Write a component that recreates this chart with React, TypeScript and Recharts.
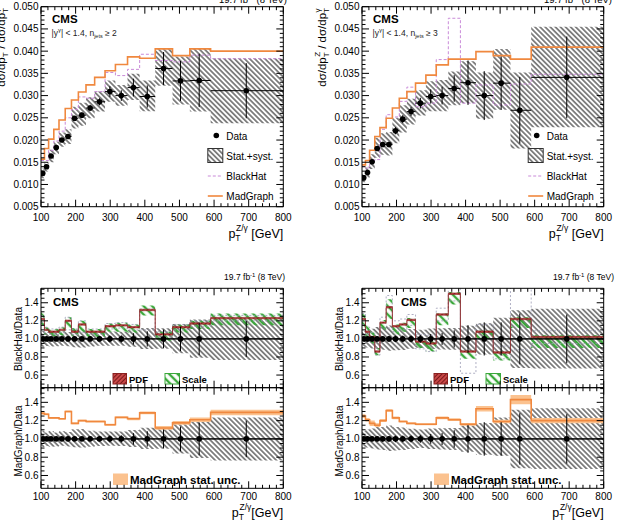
import React from 'react';
import { Area, ComposedChart, ErrorBar, Line, ReferenceLine, Scatter, XAxis, YAxis } from 'recharts';

const FONT = '"Liberation Sans", Arial, Helvetica, sans-serif';

// p_T bins (GeV) and where the data points sit
const binEdges = [100, 110, 122, 137, 152, 170, 188, 208, 230, 255, 285, 315, 350, 385, 430, 480, 530, 590, 800];
const pointPt = [105, 116, 129, 144, 160, 178, 197, 218, 242, 269, 299, 332, 367, 407, 454, 503, 557, 693];

// n_jets >= 2 : ratio of cross sections
const dataJ2 = [0.0125, 0.014, 0.0164, 0.0183, 0.02, 0.0208, 0.0249, 0.0256, 0.0272, 0.0286, 0.0309, 0.03, 0.0318, 0.0298, 0.0361, 0.0333, 0.0334, 0.0311];
const statJ2 = [0.0002, 0.0003, 0.0003, 0.0004, 0.0004, 0.0005, 0.0005, 0.0006, 0.0007, 0.0008, 0.0012, 0.0012, 0.002, 0.0025, 0.0037, 0.0045, 0.006, 0.0062];
const bandLoJ2 = [0.0114, 0.0129, 0.015, 0.0168, 0.0185, 0.0191, 0.0226, 0.0232, 0.0249, 0.0264, 0.0286, 0.0277, 0.029, 0.0265, 0.0322, 0.028, 0.0264, 0.0238];
const bandHiJ2 = [0.0136, 0.015, 0.0178, 0.0196, 0.0217, 0.0224, 0.0275, 0.0284, 0.0296, 0.0309, 0.0334, 0.0324, 0.0349, 0.0334, 0.0404, 0.0388, 0.0406, 0.0384];
const madgraphJ2 = [0.0157, 0.0181, 0.0202, 0.0224, 0.0245, 0.0271, 0.029, 0.0308, 0.0324, 0.0341, 0.0356, 0.037, 0.0387, 0.0384, 0.0405, 0.039, 0.0405, 0.04];
const blackhatJ2 = [0.0154, 0.0154, 0.0177, 0.0198, 0.022, 0.025, 0.0269, 0.0297, 0.0294, 0.0309, 0.0352, 0.0345, 0.0359, 0.0393, 0.0379, 0.0376, 0.0391, 0.0383];

const bhRatioJ2 = [1.22, 1.1, 1.08, 1.08, 1.1, 1.2, 1.08, 1.16, 1.08, 1.08, 1.14, 1.15, 1.13, 1.32, 1.05, 1.13, 1.17, 1.23];
const pdfJ2 = [0.008, 0.008, 0.008, 0.008, 0.008, 0.008, 0.008, 0.008, 0.008, 0.008, 0.008, 0.008, 0.008, 0.008, 0.008, 0.008, 0.008, 0.008];
const scaleLoJ2 = [1.15, 1.05, 1.03, 1.03, 1.04, 1.12, 1.03, 1.08, 1.02, 1.02, 1.08, 1.08, 1.07, 1.26, 0.98, 1.07, 1.11, 1.15];
const scaleHiJ2 = [1.3, 1.13, 1.11, 1.11, 1.13, 1.24, 1.12, 1.2, 1.11, 1.11, 1.17, 1.18, 1.16, 1.37, 1.08, 1.16, 1.2, 1.28];
const bhStatLoJ2 = [1.18, 1.07, 1.05, 1.05, 1.07, 1.1, 1.05, 1.07, 1.05, 1.05, 1.11, 1.12, 1.1, 1.1, 1.02, 1.1, 1.14, 1.2];
const bhStatHiJ2 = [1.26, 1.13, 1.11, 1.11, 1.13, 1.24, 1.11, 1.2, 1.11, 1.11, 1.17, 1.18, 1.16, 1.33, 1.08, 1.16, 1.2, 1.26];
const mgRatioJ2 = [1.28, 1.27, 1.23, 1.23, 1.22, 1.3, 1.17, 1.2, 1.19, 1.19, 1.155, 1.235, 1.22, 1.285, 1.12, 1.175, 1.21, 1.29];
const mgStatJ2 = [0.015, 0.01, 0.01, 0.01, 0.01, 0.01, 0.01, 0.01, 0.01, 0.01, 0.01, 0.01, 0.015, 0.015, 0.02, 0.02, 0.025, 0.03];

// n_jets >= 3
const dataJ3 = [0.0115, 0.0127, 0.0151, 0.0181, 0.019, 0.019, 0.0221, 0.0247, 0.0264, 0.0283, 0.0298, 0.03, 0.0316, 0.0329, 0.03, 0.0328, 0.0267, 0.0341];
const statJ3 = [0.0003, 0.0004, 0.0004, 0.0005, 0.0006, 0.0006, 0.0008, 0.0009, 0.001, 0.0012, 0.0016, 0.002, 0.003, 0.005, 0.0055, 0.006, 0.0075, 0.0092];
const bandLoJ3 = [0.0105, 0.0115, 0.0135, 0.016, 0.0167, 0.0165, 0.0193, 0.0217, 0.0235, 0.0255, 0.0265, 0.0265, 0.0278, 0.0283, 0.0248, 0.0268, 0.0181, 0.0229];
const bandHiJ3 = [0.0125, 0.014, 0.0168, 0.0205, 0.0215, 0.0218, 0.025, 0.0278, 0.0293, 0.0312, 0.0332, 0.0335, 0.0354, 0.0377, 0.0352, 0.0405, 0.0352, 0.0455];
const madgraphJ3 = [0.0144, 0.0154, 0.0177, 0.0208, 0.0228, 0.0249, 0.0272, 0.0294, 0.0309, 0.0328, 0.0346, 0.0369, 0.0382, 0.0382, 0.0399, 0.039, 0.0382, 0.0409];
const blackhatJ3 = [0.014, 0.0137, 0.0154, 0.0156, 0.0224, 0.0257, 0.0252, 0.0287, 0.0319, 0.0275, 0.0283, 0.0381, 0.0474, 0.0283, 0.0324, 0.0279, 0.0326, 0.0348];

const bhRatioJ3 = [1.22, 1.08, 1.02, 0.86, 1.18, 1.35, 1.14, 1.16, 1.21, 0.97, 0.95, 1.27, 1.5, 0.86, 1.08, 0.85, 1.22, 1.02];
const pdfJ3 = [0.008, 0.008, 0.008, 0.008, 0.008, 0.008, 0.008, 0.008, 0.008, 0.008, 0.008, 0.008, 0.008, 0.008, 0.008, 0.008, 0.008, 0.008];
const scaleLoJ3 = [1.12, 1.0, 0.95, 0.82, 1.1, 1.22, 1.05, 1.08, 1.12, 0.9, 0.86, 1.15, 1.38, 0.78, 1.0, 0.76, 1.12, 0.9];
const scaleHiJ3 = [1.28, 1.15, 1.08, 0.9, 1.21, 1.44, 1.16, 1.18, 1.23, 0.98, 0.97, 1.28, 1.52, 0.87, 1.09, 0.86, 1.24, 1.04];
const bhStatLoJ3 = [1.16, 1.03, 0.97, 0.82, 1.12, 1.12, 1.08, 1.1, 1.15, 0.89, 0.86, 1.2, 1.42, 0.62, 1.0, 0.78, 0.88, 0.95];
const bhStatHiJ3 = [1.28, 1.13, 1.07, 0.9, 1.24, 1.48, 1.2, 1.22, 1.27, 1.05, 1.04, 1.34, 1.58, 1.1, 1.16, 0.92, 1.7, 1.09];
const mgRatioJ3 = [1.25, 1.21, 1.17, 1.15, 1.2, 1.31, 1.23, 1.19, 1.17, 1.16, 1.16, 1.23, 1.21, 1.16, 1.33, 1.19, 1.43, 1.2];
const mgStatJ3 = [0.02, 0.02, 0.03, 0.02, 0.015, 0.015, 0.015, 0.01, 0.01, 0.01, 0.01, 0.015, 0.015, 0.015, 0.03, 0.02, 0.05, 0.03];

// axis ticks
const xMajor = [100, 200, 300, 400, 500, 600, 700, 800];
const yMajorTop = [0.005, 0.01, 0.015, 0.02, 0.025, 0.03, 0.035, 0.04, 0.045, 0.05];
const yMajorRatio = [0.6, 0.8, 1.0, 1.2, 1.4];

const grid = (a: number, b: number, s: number) =>
  Array.from({ length: Math.round((b - a) / s) + 1 }, (_, i) => Math.round((a + i * s) * 1e6) / 1e6);
const xTicks = grid(100, 800, 20);
const yTicksTop = grid(0.005, 0.05, 0.001);
const yTicksRatio = grid(0.5, 1.55, 0.05);

const ORANGE = '#f0883e';
const VIOLET = '#c98ad8';
const AXIS = { stroke: '#000', strokeWidth: 1 };

const near = (v: number, arr: number[]) => arr.some((a) => Math.abs(a - v) < 1e-6);

function stepRows(cols: Record<string, any[]>) {
  const n = binEdges.length - 1;
  return binEdges.map((e, i) => {
    const row: Record<string, any> = { x: e };
    const k = Math.min(i, n - 1);
    Object.keys(cols).forEach((key) => {
      row[key] = cols[key][k];
    });
    return row;
  });
}

function pointRows(ys: number[], errs: number[]) {
  return pointPt.map((x, i) => ({
    x,
    y: ys[i],
    yErr: errs[i],
    xErr: [x - binEdges[i], binEdges[i + 1] - x],
  }));
}

const xTick = (side: 'bottom' | 'top', labelGap: number) => (p: any) => {
  const v = p.payload.value;
  const major = near(v, xMajor);
  const len = major ? 7 : 3.5;
  const dir = side === 'bottom' ? -1 : 1;
  return (
    <g>
      <line x1={p.x} x2={p.x} y1={p.y} y2={p.y + dir * len} stroke="#000" />
      {labelGap > 0 && major && (
        <text x={p.x} y={p.y + labelGap} textAnchor="middle" fontSize={10} fontFamily={FONT} fill="#000">
          {v}
        </text>
      )}
    </g>
  );
};

const yTick = (side: 'left' | 'right', major: number[], fmt: (v: number) => string) => (p: any) => {
  const v = p.payload.value;
  const isMajor = near(v, major);
  const len = isMajor ? 7 : 3.5;
  const dir = side === 'left' ? 1 : -1;
  return (
    <g>
      <line x1={p.x} x2={p.x + dir * len} y1={p.y} y2={p.y} stroke="#000" />
      {side === 'left' && isMajor && (
        <text x={p.x - 2.5} y={p.y + 3.5} textAnchor="end" fontSize={10} fontFamily={FONT} fill="#000">
          {fmt(v)}
        </text>
      )}
    </g>
  );
};

// axes are 1px thick so that recharts draws them; frameMargin subtracts that pixel
function frameAxes(yDomain: [number, number], yTicks: number[], yMajor: number[], fmt: (v: number) => string, labelGap: number) {
  const common = { type: 'number' as const, allowDataOverflow: true, interval: 0 as const, tickSize: 0, tickMargin: 0, tickLine: false, axisLine: AXIS };
  return [
    <XAxis key="xb" dataKey="x" domain={[100, 800]} ticks={xTicks} height={1} tick={xTick('bottom', labelGap)} {...common} />,
    <XAxis key="xt" xAxisId="t" dataKey="x" orientation="top" domain={[100, 800]} ticks={xTicks} height={1} tick={xTick('top', 0)} {...common} />,
    <YAxis key="yl" domain={yDomain} ticks={yTicks} width={1} tick={yTick('left', yMajor, fmt)} {...common} />,
    <YAxis key="yr" yAxisId="r" orientation="right" domain={yDomain} ticks={yTicks} width={1} tick={yTick('right', yMajor, fmt)} {...common} />,
  ];
}

const frameMargin = (top: number, bottom: number, left: number, right: number) => ({
  top: top - 1,
  bottom: bottom - 1,
  left: left - 1,
  right: right - 1,
});

function patterns(uid: string) {
  return (
    <defs>
      <pattern id={`gray${uid}`} patternUnits="userSpaceOnUse" width={3.6} height={3.6} patternTransform="rotate(-45)">
        <line x1={1.8} y1={0} x2={1.8} y2={3.6} stroke="#2a2a2a" strokeWidth={1.1} />
      </pattern>
      <pattern id={`green${uid}`} patternUnits="userSpaceOnUse" width={6} height={6} patternTransform="rotate(-45)">
        <line x1={3} y1={0} x2={3} y2={6} stroke="#3aa83a" strokeWidth={2.4} />
      </pattern>
      <pattern id={`red${uid}`} patternUnits="userSpaceOnUse" width={3} height={3} patternTransform="rotate(45)">
        <rect x={0} y={0} width={3} height={3} fill="#c84848" />
        <line x1={1.5} y1={0} x2={1.5} y2={3} stroke="#7a1a1a" strokeWidth={1} />
      </pattern>
    </defs>
  );
}

const dot = (p: any) => <circle cx={p.cx} cy={p.cy} r={2.8} fill="#000" />;

function dataPoints(ys: number[], errs: number[]) {
  return (
    <Scatter data={pointRows(ys, errs)} dataKey="y" shape={dot} isAnimationActive={false}>
      <ErrorBar dataKey="yErr" direction="y" width={0} stroke="#000" strokeWidth={1} isAnimationActive={false} />
      <ErrorBar dataKey="xErr" direction="x" width={0} stroke="#000" strokeWidth={1} isAnimationActive={false} />
    </Scatter>
  );
}

function ptTitle(x: number, y: number, gap: string) {
  return (
    <text x={x} y={y} textAnchor="end" fontFamily={FONT} fontSize={12.5} fill="#000">
      p<tspan fontSize={8.5} dy={3.5}>T</tspan>
      <tspan fontSize={8.5} dx={-4.5} dy={-10}>Z/γ</tspan>
      <tspan dy={6.5}>{gap}[GeV]</tspan>
    </text>
  );
}

function lumi(x: number, y: number, size: number) {
  return (
    <text x={x} y={y} textAnchor="end" fontFamily={FONT} fontSize={size} fill="#000">
      19.7 fb<tspan fontSize={size * 0.7} dy={-3.5}>-1</tspan>
      <tspan dy={3.5}> (8 TeV)</tspan>
    </text>
  );
}

interface MainProps {
  uid: string;
  left: number;
  plotL: number;
  plotR: number;
  lumiR: number;
  njets: number;
  data: number[];
  stat: number[];
  lo: number[];
  hi: number[];
  mg: number[];
  bh: number[];
}

function MainPanel({ uid, left, plotL, plotR, lumiR, njets, data, stat, lo, hi, mg, bh }: MainProps) {
  const W = 312;
  const H = 245;
  const top = 6.7;
  const bottom = 206.7;
  const ox = plotL - left;
  const rx = plotR - left;
  const steps = stepRows({ band: lo.map((v, i) => [v, hi[i]]), mg, bh });
  return (
    <div style={{ position: 'absolute', left, top: 0 }}>
      <ComposedChart width={W} height={H} margin={frameMargin(top, H - bottom, ox, W - rx)}>
        {patterns(uid)}
        {frameAxes([0.005, 0.05], yTicksTop, yMajorTop, (v) => v.toFixed(3), 14)}
        <Area data={steps} dataKey="band" type="stepAfter" fill={`url(#gray${uid})`} fillOpacity={1} stroke="none" isAnimationActive={false} />
        <Line data={steps} dataKey="bh" type="stepAfter" stroke={VIOLET} strokeWidth={1} strokeDasharray="3 2" dot={false} activeDot={false} isAnimationActive={false} />
        <Line data={steps} dataKey="mg" type="stepAfter" stroke={ORANGE} strokeWidth={1.6} dot={false} activeDot={false} isAnimationActive={false} />
        {dataPoints(data, stat)}

        <text x={ox + 11} y={23} fontFamily={FONT} fontSize={11.5} fontWeight="bold" fill="#000">CMS</text>
        <text x={ox + 10.5} y={35.5} fontFamily={FONT} fontSize={8.5} fill="#222">
          |y<tspan fontSize={6} dy={-4}>γ</tspan>
          <tspan dy={4}>{'| < 1.4, n'}</tspan>
          <tspan fontSize={5.5} dy={2.5}>jets</tspan>
          <tspan dy={-2.5}>{` ≥ ${njets}`}</tspan>
        </text>
        {lumi(lumiR - left, 3, 9.5)}
        {ptTitle(rx, 237.5, ' ')}
        <text transform={`translate(${ox - 36},8) rotate(-90)`} textAnchor="end" fontFamily={FONT} fontSize={11.5} fill="#000">
          dσ/dp<tspan fontSize={8} dy={3}>T</tspan>
          <tspan fontSize={8} dx={-4.5} dy={-9}>Z</tspan>
          <tspan dy={6}> / dσ/dp</tspan>
          <tspan fontSize={8} dy={3}>T</tspan>
          <tspan fontSize={8} dx={-4.5} dy={-9}>γ</tspan>
        </text>

        <circle cx={rx - 67} cy={135.5} r={2.8} fill="#000" />
        <text x={rx - 57} y={139.5} fontFamily={FONT} fontSize={10} fill="#000">Data</text>
        <rect x={rx - 75.5} y={148.5} width={15} height={14} fill={`url(#gray${uid})`} stroke="#333" />
        <text x={rx - 57} y={159.5} fontFamily={FONT} fontSize={10} fill="#000">Stat.+syst.</text>
        <line x1={rx - 75.5} x2={rx - 60.5} y1={176} y2={176} stroke={VIOLET} strokeDasharray="3 2" />
        <text x={rx - 57} y={179.5} fontFamily={FONT} fontSize={10} fill="#000">BlackHat</text>
        <line x1={rx - 75.5} x2={rx - 60.5} y1={196} y2={196} stroke={ORANGE} strokeWidth={1.6} />
        <text x={rx - 57} y={199.5} fontFamily={FONT} fontSize={10} fill="#000">MadGraph</text>
      </ComposedChart>
    </div>
  );
}

interface RatioProps {
  uid: string;
  left: number;
  plotL: number;
  plotR: number;
  lumiR: number;
  cmsX: number;
  data: number[];
  stat: number[];
  lo: number[];
  hi: number[];
  bh: number[];
  pdf: number[];
  scaleLo: number[];
  scaleHi: number[];
  bhStatLo: number[];
  bhStatHi: number[];
  mg: number[];
  mgStat: number[];
}

const RATIO_DOMAIN: [number, number] = [0.46, 1.56];

function RatioPanels(p: RatioProps) {
  const W = 312;
  const ox = p.plotL - p.left;
  const rx = p.plotR - p.left;
  const relBand = p.lo.map((v, i) => [v / p.data[i], p.hi[i] / p.data[i]]);
  const relStat = p.stat.map((s, i) => s / p.data[i]);
  const ones = p.data.map(() => 1);
  const upper = stepRows({
    band: relBand,
    scale: p.scaleLo.map((v, i) => [v, p.scaleHi[i]]),
    pdf: p.bh.map((v, i) => [v - p.pdf[i], v + p.pdf[i]]),
    bhStat: p.bhStatLo.map((v, i) => [v, p.bhStatHi[i]]),
  });
  const lower = stepRows({
    band: relBand,
    mgBand: p.mg.map((v, i) => [v - p.mgStat[i], v + p.mgStat[i]]),
    mg: p.mg,
  });
  const fmt = (v: number) => v.toFixed(1);
  const H1 = 130;
  const H2 = 150;
  return (
    <>
      <div style={{ position: 'absolute', left: p.left, top: 260 }}>
        <ComposedChart width={W} height={H1} margin={frameMargin(28.3, H1 - 127.7, ox, W - rx)}>
          {patterns(p.uid + 'u')}
          {frameAxes(RATIO_DOMAIN, yTicksRatio, yMajorRatio, fmt, 0)}
          <Area data={upper} dataKey="band" type="stepAfter" fill={`url(#gray${p.uid}u)`} fillOpacity={1} stroke="none" isAnimationActive={false} />
          <Area data={upper} dataKey="scale" type="stepAfter" fill={`url(#green${p.uid}u)`} fillOpacity={1} stroke="none" isAnimationActive={false} />
          <Area data={upper} dataKey="bhStat" type="stepAfter" fill="none" stroke="#9a9ab4" strokeWidth={0.8} strokeDasharray="2 2" isAnimationActive={false} />
          <Area data={upper} dataKey="pdf" type="stepAfter" fill={`url(#red${p.uid}u)`} fillOpacity={1} stroke="#8a2020" strokeWidth={0.6} isAnimationActive={false} />
          <ReferenceLine y={1} stroke="#000" strokeWidth={1} />
          {dataPoints(ones, relStat)}

          <text x={ox + p.cmsX} y={46} fontFamily={FONT} fontSize={11.5} fontWeight="bold" fill="#000">CMS</text>
          {lumi(p.lumiR - p.left, 20, 8.5)}
          <text transform={`translate(${ox - 19},79) rotate(-90)`} textAnchor="middle" fontFamily={FONT} fontSize={10} fill="#000">BlackHat/Data</text>
          <rect x={ox + 72} y={113.5} width={13.5} height={10.5} fill={`url(#red${p.uid}u)`} stroke="#8a2020" />
          <text x={ox + 88} y={122.5} fontFamily={FONT} fontSize={9.5} fontWeight="bold" fill="#000">PDF</text>
          <rect x={ox + 124} y={113.5} width={14.5} height={10.5} fill={`url(#green${p.uid}u)`} stroke="#3aa83a" />
          <text x={ox + 141} y={122.5} fontFamily={FONT} fontSize={9.5} fontWeight="bold" fill="#000">Scale</text>
        </ComposedChart>
      </div>
      <div style={{ position: 'absolute', left: p.left, top: 380 }}>
        <ComposedChart width={W} height={H2} margin={frameMargin(7.7, H2 - 108.3, ox, W - rx)}>
          {patterns(p.uid + 'l')}
          {frameAxes(RATIO_DOMAIN, yTicksRatio, yMajorRatio, fmt, 11.5)}
          <Area data={lower} dataKey="band" type="stepAfter" fill={`url(#gray${p.uid}l)`} fillOpacity={1} stroke="none" isAnimationActive={false} />
          <Area data={lower} dataKey="mgBand" type="stepAfter" fill="#fbc28f" fillOpacity={1} stroke="none" isAnimationActive={false} />
          <Line data={lower} dataKey="mg" type="stepAfter" stroke={ORANGE} strokeWidth={1.6} dot={false} activeDot={false} isAnimationActive={false} />
          <ReferenceLine y={1} stroke="#000" strokeWidth={1} />
          {dataPoints(ones, relStat)}

          <text transform={`translate(${ox - 19},61) rotate(-90)`} textAnchor="middle" fontFamily={FONT} fontSize={10} fill="#000">MadGraph/Data</text>
          <rect x={ox + 72} y={93.5} width={15} height={11.5} fill="#fbc28f" />
          <text x={ox + 89} y={104} fontFamily={FONT} fontSize={11.5} fontWeight="bold" fill="#000">MadGraph stat. unc.</text>
          {ptTitle(rx, 136.5, '')}
        </ComposedChart>
      </div>
    </>
  );
}

export default function App() {
  return (
    <div style={{ position: 'absolute', left: 0, top: 0, width: 624, height: 530, background: '#fff', overflow: 'hidden' }}>
      <MainPanel uid="a" left={0} plotL={41} plotR={283.3} lumiR={287} njets={2}
        data={dataJ2} stat={statJ2} lo={bandLoJ2} hi={bandHiJ2} mg={madgraphJ2} bh={blackhatJ2} />
      <MainPanel uid="b" left={312} plotL={362} plotR={603.7} lumiR={612} njets={3}
        data={dataJ3} stat={statJ3} lo={bandLoJ3} hi={bandHiJ3} mg={madgraphJ3} bh={blackhatJ3} />
      <RatioPanels uid="c" left={0} plotL={41} plotR={283.3} lumiR={285} cmsX={12}
        data={dataJ2} stat={statJ2} lo={bandLoJ2} hi={bandHiJ2} bh={bhRatioJ2} pdf={pdfJ2}
        scaleLo={scaleLoJ2} scaleHi={scaleHiJ2} bhStatLo={bhStatLoJ2} bhStatHi={bhStatHiJ2}
        mg={mgRatioJ2} mgStat={mgStatJ2} />
      <RatioPanels uid="d" left={312} plotL={362} plotR={603.7} lumiR={614} cmsX={39}
        data={dataJ3} stat={statJ3} lo={bandLoJ3} hi={bandHiJ3} bh={bhRatioJ3} pdf={pdfJ3}
        scaleLo={scaleLoJ3} scaleHi={scaleHiJ3} bhStatLo={bhStatLoJ3} bhStatHi={bhStatHiJ3}
        mg={mgRatioJ3} mgStat={mgStatJ3} />
    </div>
  );
}
